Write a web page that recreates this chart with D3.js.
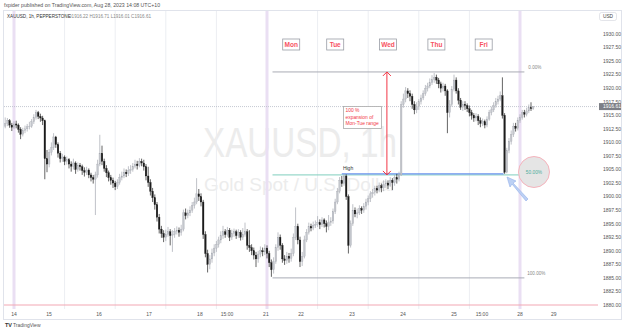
<!DOCTYPE html>
<html><head><meta charset="utf-8">
<script src="https://cdn.jsdelivr.net/npm/d3@7"></script>
<style>
html,body{margin:0;padding:0;background:#fff;}
svg{display:block;font-family:"Liberation Sans",Arial,sans-serif;}
</style></head>
<body><svg id="c" width="625" height="332"></svg>
<script>
// ---------------- DATA ----------------
const firstOpen = 1913.0;
const closes = [
1913.5,1914.0,1913.2,1912.8,1913.4,1913.2,1912.4,1911.5,1912.2,1912.5,
1912.9,1913.0,1913.8,1914.6,1915.5,1914.8,1914.5,1914.0,1907.0,1906.0,
1908.2,1909.0,1911.0,1909.6,1908.0,1907.0,1907.3,1906.5,1906.8,1906.0,
1905.6,1906.2,1905.0,1905.8,1905.5,1904.8,1904.5,1904.9,1904.0,1903.5,
1903.2,1904.0,1906.0,1908.0,1906.5,1905.2,1904.4,1903.5,1903.0,1902.5,
1901.8,1902.6,1903.5,1903.8,1904.5,1904.2,1904.8,1905.0,1905.6,1906.0,
1905.7,1906.5,1906.2,1905.5,1903.8,1902.6,1901.0,1899.8,1898.5,1896.2,
1894.0,1893.2,1892.5,1893.0,1893.5,1892.8,1893.0,1893.6,1893.8,1893.4,
1894.0,1897.0,1896.5,1897.0,1897.5,1898.4,1899.0,1900.5,1900.0,1899.0,
1893.0,1889.5,1887.5,1888.5,1889.6,1890.5,1891.2,1892.0,1892.8,1893.5,
1893.0,1893.8,1892.5,1893.2,1893.5,1892.8,1893.4,1892.5,1893.0,1893.5,
1891.0,1890.6,1890.0,1889.2,1888.5,1889.4,1890.0,1889.8,1890.5,1889.5,
1887.8,1886.5,1888.0,1890.6,1892.5,1891.0,1888.5,1888.2,1889.0,1888.6,
1889.5,1892.5,1894.5,1892.0,1888.0,1889.0,1892.0,1893.4,1894.5,1894.2,
1894.7,1894.9,1895.2,1894.8,1895.7,1895.0,1894.5,1895.2,1895.5,1897.2,
1899.0,1901.0,1903.0,1902.4,1903.8,1900.0,1891.0,1895.0,1897.5,1896.8,
1897.0,1897.8,1897.5,1898.2,1899.0,1899.6,1900.5,1900.8,1901.5,1901.2,
1902.0,1901.6,1902.3,1902.5,1902.1,1903.0,1902.6,1903.5,1903.2,1904.0,
1917.0,1918.0,1919.5,1919.0,1918.5,1917.0,1916.0,1916.6,1917.5,1918.2,
1919.0,1920.0,1920.4,1921.0,1921.6,1922.0,1921.5,1920.8,1920.0,1920.4,
1919.5,1915.5,1917.0,1919.8,1921.5,1919.5,1917.8,1916.5,1917.0,1916.8,
1916.2,1915.5,1915.0,1914.5,1914.8,1914.0,1913.5,1913.8,1913.2,1914.3,
1915.5,1916.0,1916.8,1917.5,1918.0,1918.6,1915.0,1904.5,1908.5,1910.2,
1911.5,1913.0,1912.6,1914.0,1914.6,1915.5,1915.2,1915.8,1916.4,1916.22,
1916.61];
const highs = [
1914.6,1914.5,1914.3,1913.6,1913.9,1914.0,1913.5,1912.8,1912.7,1913.1,
1913.4,1913.8,1914.3,1915.2,1916.0,1915.8,1915.3,1914.9,1914.2,1908.6,
1908.8,1910.0,1911.7,1911.2,1910.0,1908.4,1907.9,1907.6,1907.4,1907.1,
1906.5,1907.0,1906.5,1906.3,1906.2,1905.9,1905.4,1905.5,1905.2,1904.4,
1904.0,1904.6,1906.8,1911.4,1909.4,1907.0,1905.8,1904.8,1904.0,1903.5,
1902.9,1903.2,1904.2,1904.6,1905.2,1905.0,1905.6,1905.8,1906.2,1906.8,
1906.6,1907.1,1907.0,1906.8,1906.0,1905.5,1903.2,1901.6,1900.4,1899.0,
1896.8,1894.6,1893.8,1893.9,1894.4,1894.0,1893.8,1894.2,1894.5,1894.3,
1894.8,1897.6,1897.8,1897.6,1898.2,1899.0,1899.8,1903.4,1901.4,1900.6,
1899.4,1893.6,1890.2,1889.2,1890.4,1891.2,1891.8,1892.6,1893.6,1894.6,
1894.0,1894.4,1894.2,1893.9,1894.1,1893.9,1894.0,1893.8,1894.2,1895.2,
1894.0,1893.8,1891.2,1890.6,1889.8,1890.0,1890.8,1890.6,1891.2,1891.0,
1890.0,1888.4,1888.8,1891.2,1893.4,1893.0,1891.4,1889.2,1889.8,1889.6,
1890.4,1893.2,1898.0,1895.0,1892.6,1889.8,1892.8,1894.0,1895.2,1895.0,
1895.4,1895.6,1896.4,1895.8,1896.2,1896.0,1895.6,1896.6,1896.2,1897.8,
1899.6,1901.6,1903.6,1903.8,1904.2,1904.1,1900.4,1895.6,1898.6,1898.0,
1897.8,1898.4,1898.2,1898.8,1899.6,1900.2,1901.0,1901.4,1902.0,1902.0,
1902.6,1902.4,1903.0,1903.2,1903.0,1903.6,1903.4,1904.0,1904.2,1904.6,
1917.6,1919.0,1920.2,1920.0,1919.6,1919.0,1917.6,1917.4,1918.0,1918.8,
1919.6,1920.6,1921.0,1921.8,1922.4,1922.8,1922.5,1921.9,1921.2,1921.0,
1920.8,1919.8,1917.8,1920.4,1922.5,1922.0,1920.0,1918.2,1917.6,1917.6,
1917.2,1916.8,1916.0,1915.4,1915.4,1915.2,1914.6,1914.4,1914.2,1914.8,
1916.0,1916.6,1917.4,1918.2,1918.6,1919.4,1922.0,1915.4,1909.0,1910.8,
1912.2,1913.6,1913.6,1914.6,1915.2,1916.0,1916.0,1916.4,1917.0,1917.4,
1916.71];
const lows = [
1912.6,1913.0,1912.7,1912.1,1912.5,1912.6,1911.8,1910.6,1911.1,1911.7,
1912.0,1912.4,1912.7,1913.4,1914.2,1914.3,1913.8,1913.2,1903.2,1904.5,
1905.4,1907.6,1908.6,1909.0,1907.2,1906.3,1906.4,1905.8,1905.9,1905.2,
1904.6,1905.0,1904.2,1904.6,1904.8,1904.0,1903.7,1904.0,1903.4,1902.8,
1902.4,1896.6,1903.5,1905.6,1905.8,1904.6,1903.6,1902.8,1902.2,1901.6,
1901.2,1901.4,1902.2,1903.0,1903.4,1903.6,1903.8,1904.2,1904.6,1905.2,
1905.0,1905.4,1905.6,1904.8,1903.0,1901.8,1900.2,1899.0,1897.6,1895.4,
1893.2,1892.4,1891.6,1891.8,1892.6,1891.0,1889.8,1892.4,1893.0,1892.6,
1892.8,1893.6,1895.8,1896.0,1896.4,1897.0,1897.8,1898.6,1899.2,1898.2,
1892.2,1888.8,1886.0,1886.6,1887.8,1889.0,1889.8,1890.6,1891.4,1892.2,
1892.4,1892.6,1891.8,1892.0,1892.6,1892.2,1892.4,1891.9,1892.0,1892.6,
1890.2,1889.8,1889.2,1888.4,1887.0,1887.8,1888.8,1889.0,1889.2,1888.6,
1887.0,1885.2,1885.8,1887.6,1890.0,1890.2,1887.8,1887.4,1887.6,1887.8,
1888.0,1889.0,1892.0,1891.2,1887.0,1887.2,1888.6,1891.6,1893.0,1893.6,
1893.8,1894.2,1894.4,1894.0,1894.4,1894.3,1893.4,1893.8,1894.6,1895.0,
1896.8,1898.6,1900.6,1901.8,1902.0,1899.4,1889.5,1890.6,1894.6,1896.2,
1896.0,1896.6,1896.8,1897.0,1897.6,1898.4,1899.0,1899.8,1900.2,1900.6,
1900.8,1900.8,1901.0,1901.6,1901.4,1901.8,1901.2,1902.0,1902.4,1902.8,
1903.8,1916.4,1917.4,1918.2,1917.6,1916.2,1915.2,1915.4,1916.0,1917.0,
1917.8,1918.6,1919.4,1920.0,1920.6,1921.0,1920.8,1920.0,1919.2,1919.4,
1918.6,1911.7,1914.6,1916.6,1919.4,1919.0,1917.0,1916.0,1915.8,1916.0,
1915.6,1914.8,1914.2,1913.8,1913.9,1913.2,1912.8,1913.0,1912.6,1912.8,
1914.0,1915.0,1915.6,1916.4,1917.0,1917.6,1914.4,1904.2,1904.3,1908.0,
1909.6,1911.0,1912.0,1912.2,1913.6,1914.2,1914.6,1914.8,1915.4,1915.8,
1916.01];

const xTickIdx    = [4, 19.9, 42.6, 65.4, 88.5, 100.8, 118.5, 134.5, 157.6, 180.8, 204, 216.7, 234, 249.4];
const xTickLabels = ["14","15","16","17","18","15:00","21","22","23","24","25","15:00","28","29"];
const gridIdx     = [4, 27, 50, 73, 96, 119, 142, 165, 188, 211, 234];
const weekIdx     = [4, 119, 234];
const priceTicks  = [1880,1882.5,1885,1887.5,1890,1892.5,1895,1897.5,1900,1902.5,1905,1907.5,1910,1912.5,1915,1917.5,1920,1922.5,1925,1927.5,1930];
const dayLabels   = ["Mon","Tue","Wed","Thu","Fri"];
const dayIdx      = [130, 150, 174, 196, 217.5];
const fibLevels   = [1923, 1904, 1885];
const fibLabels   = ["0.00%","50.00%","100.00%"];
const highLevel   = 1904.2;
const lastPrice   = 1916.61;
const bottomLine  = 1880;

// ---------------- SCALES ----------------
const svg = d3.select("#c");
const x = d3.scaleLinear().domain([0, 240]).range([5.2, 5.2 + 240 * 2.2]);
const y = d3.scaleLinear().domain([1880, 1930]).range([305, 34]);
const fmt = d3.format(".2f");

const candles = closes.map((c, i) => ({
  i, o: i === 0 ? firstOpen : closes[i - 1], c, h: highs[i], l: lows[i]
}));

// header
svg.append("text").attr("x", 4).attr("y", 7).attr("font-size", 5.2).attr("fill", "#555")
  .text("fxpider published on TradingView.com, Aug 28, 2023 14:08 UTC+10");

// frame
svg.append("rect").attr("x", 3.5).attr("y", 10.5).attr("width", 618).attr("height", 309)
  .attr("fill", "#fff").attr("stroke", "#e0e3eb");

const plot = svg.append("g");
// watermark
plot.append("text").attr("x", 300).attr("y", 157).attr("text-anchor", "middle")
  .attr("font-size", 42).attr("fill", "#ececec")
  .attr("textLength", 194).attr("lengthAdjust", "spacingAndGlyphs").text("XAUUSD, 1h");
plot.append("text").attr("x", 300).attr("y", 191).attr("text-anchor", "middle")
  .attr("font-size", 19).attr("fill", "#ececec").text("Gold Spot / U.S. Dollar");

// grid
plot.selectAll(".grid").data(gridIdx).join("line")
  .attr("x1", d => x(d)).attr("x2", d => x(d)).attr("y1", 11).attr("y2", 309)
  .attr("stroke", "#eceef2").attr("stroke-width", 1);
plot.selectAll(".week").data(weekIdx).join("line")
  .attr("x1", d => x(d)).attr("x2", d => x(d)).attr("y1", 11).attr("y2", 309)
  .attr("stroke", "#eadff3").attr("stroke-width", 3);

// bottom pink line
plot.append("line").attr("x1", 4).attr("x2", 598).attr("y1", y(bottomLine)).attr("y2", y(bottomLine))
  .attr("stroke", "#f2a7b3").attr("stroke-width", 1);

// current price dotted line
plot.append("line").attr("x1", 4).attr("x2", 598).attr("y1", y(lastPrice)).attr("y2", y(lastPrice))
  .attr("stroke", "#b8bcc6").attr("stroke-width", 0.8).attr("stroke-dasharray", "1,1");

// fib lines
const fx1 = x(121.5), fx2 = x(236);
plot.append("line").attr("x1", fx1).attr("x2", fx2).attr("y1", y(fibLevels[0])).attr("y2", y(fibLevels[0]))
  .attr("stroke", "#a9acb5").attr("stroke-width", 1);
plot.append("line").attr("x1", fx1).attr("x2", fx2).attr("y1", y(fibLevels[2])).attr("y2", y(fibLevels[2]))
  .attr("stroke", "#a9acb5").attr("stroke-width", 1);
plot.append("line").attr("x1", fx1).attr("x2", fx2).attr("y1", y(fibLevels[1])).attr("y2", y(fibLevels[1]))
  .attr("stroke", "#7fcfbe").attr("stroke-width", 1);
plot.append("text").attr("x", x(237.8)).attr("y", y(fibLevels[0]) - 2.5).attr("font-size", 4.6)
  .attr("fill", "#888").text(fibLabels[0]);
plot.append("text").attr("x", x(237.3)).attr("y", y(fibLevels[2]) - 2.5).attr("font-size", 4.6)
  .attr("fill", "#888").text(fibLabels[2]);

// high line
plot.append("line").attr("x1", x(153)).attr("x2", x(226.5)).attr("y1", y(highLevel)).attr("y2", y(highLevel))
  .attr("stroke", "#6b93ee").attr("stroke-width", 1.1);
plot.append("text").attr("x", x(153.5)).attr("y", y(highLevel) - 3.5).attr("font-size", 5)
  .attr("fill", "#333").text("High");

// candles
const cg = plot.append("g");
cg.selectAll(".wick").data(candles).join("line")
  .attr("x1", d => x(d.i)).attr("x2", d => x(d.i))
  .attr("y1", d => y(d.h)).attr("y2", d => y(d.l))
  .attr("stroke", d => d.c >= d.o ? "#a5a8b0" : "#222").attr("stroke-width", 0.7);
cg.selectAll(".body").data(candles).join("rect")
  .attr("x", d => x(d.i) - 0.8).attr("width", 1.6)
  .attr("y", d => y(Math.max(d.o, d.c)))
  .attr("height", d => Math.max(0.6, Math.abs(y(d.o) - y(d.c))))
  .attr("fill", d => d.c >= d.o ? "#c3c6cc" : "#1c1c1c")
  .attr("stroke", d => d.c >= d.o ? "#a5a8b0" : "#1c1c1c").attr("stroke-width", 0.3);

// red vertical arrow
const ax = x(173.5);
const rc = "#f23645";
plot.append("line").attr("x1", ax).attr("x2", ax).attr("y1", y(fibLevels[0])).attr("y2", y(fibLevels[1]))
  .attr("stroke", rc).attr("stroke-width", 1);
plot.append("path").attr("d", `M${ax-4},${y(fibLevels[0])+4}L${ax},${y(fibLevels[0])}L${ax+4},${y(fibLevels[0])+4}`)
  .attr("fill", "none").attr("stroke", rc).attr("stroke-width", 1);
plot.append("path").attr("d", `M${ax-4},${y(fibLevels[1])-4}L${ax},${y(fibLevels[1])}L${ax+4},${y(fibLevels[1])-4}`)
  .attr("fill", "none").attr("stroke", rc).attr("stroke-width", 1);

// annotation text box
const tb = plot.append("g");
tb.append("rect").attr("x", 343.5).attr("y", 106.5).attr("width", 38).attr("height", 22)
  .attr("fill", "#fff").attr("stroke", "#aaa").attr("stroke-width", 0.8);
["100 %", "expansion of", "Mon-Tue range"].forEach((t, k) => {
  tb.append("text").attr("x", 345.5).attr("y", 112.3 + k * 6.3).attr("font-size", 4.9)
    .attr("fill", rc).text(t);
});

// day boxes
dayLabels.forEach((d, k) => {
  const cx = x(dayIdx[k]);
  const w = d.length * 4 + 5;
  plot.append("rect").attr("x", cx - w / 2).attr("y", 39).attr("width", w).attr("height", 11)
    .attr("fill", "#fff").attr("stroke", "#9a9da6").attr("stroke-width", 0.8);
  plot.append("text").attr("x", cx).attr("y", 47).attr("text-anchor", "middle")
    .attr("font-size", 6.5).attr("font-weight", "bold").attr("fill", "#f7525f").text(d);
});

// blue arrow
plot.append("path")
  .attr("d", "M526,201 L512,184 L510,187 L507,177 L516,181 L513,183 L528,199 Z")
  .attr("fill", "#bcd0f4").attr("stroke", "#93b0ea").attr("stroke-width", 0.6);

// 50% circle
plot.append("circle").attr("cx", 534).attr("cy", 172).attr("r", 15.5)
  .attr("fill", "#e5e5e5").attr("stroke", "#f5b3bc").attr("stroke-width", 1);
plot.append("text").attr("x", 534).attr("y", 173.7).attr("text-anchor", "middle").attr("font-size", 4.8)
  .attr("fill", "#4cae9c").text(fibLabels[1]);

// legend line
svg.append("text").attr("x", 7).attr("y", 17.5).attr("font-size", 4.6).attr("fill", "#333")
  .text("XAUUSD, 1h, PEPPERSTONE");
svg.append("text").attr("x", 68).attr("y", 17.5).attr("font-size", 4.6).attr("fill", "#888")
  .text("O1916.22  H1916.71  L1916.01  C1916.61");

// price axis
const pa = svg.append("g");
pa.append("rect").attr("x", 598).attr("y", 11).attr("width", 23).attr("height", 298).attr("fill", "#fff");
pa.selectAll(".pt").data(priceTicks).join("text")
  .attr("x", 603).attr("y", d => y(d) + 1.8).attr("font-size", 5).attr("fill", "#555")
  .text(d => fmt(d));
pa.append("rect").attr("x", 599.5).attr("y", 12.5).attr("width", 17).attr("height", 8).attr("rx", 2)
  .attr("fill", "#fff").attr("stroke", "#d1d4dc").attr("stroke-width", 0.6);
pa.append("text").attr("x", 608).attr("y", 18.3).attr("text-anchor", "middle").attr("font-size", 4.8)
  .attr("fill", "#444").text("USD");
pa.append("rect").attr("x", 599).attr("y", y(lastPrice) - 3.5).attr("width", 22).attr("height", 7)
  .attr("fill", "#7d7f86");
pa.append("text").attr("x", 603).attr("y", y(lastPrice) + 1.8).attr("font-size", 5)
  .attr("fill", "#fff").text(fmt(lastPrice));

// time axis
svg.selectAll(".xt").data(xTickIdx).join("text")
  .attr("x", d => x(d)).attr("y", 316).attr("text-anchor", "middle")
  .attr("font-size", 5).attr("fill", "#555")
  .text((d, k) => xTickLabels[k]);

// footer logo
svg.append("text").attr("x", 5).attr("y", 327).attr("font-size", 5.5).attr("font-weight", "bold")
  .attr("fill", "#333").text("TV");
svg.append("text").attr("x", 13).attr("y", 327).attr("font-size", 5).attr("fill", "#555")
  .text("TradingView");
</script></body></html>
